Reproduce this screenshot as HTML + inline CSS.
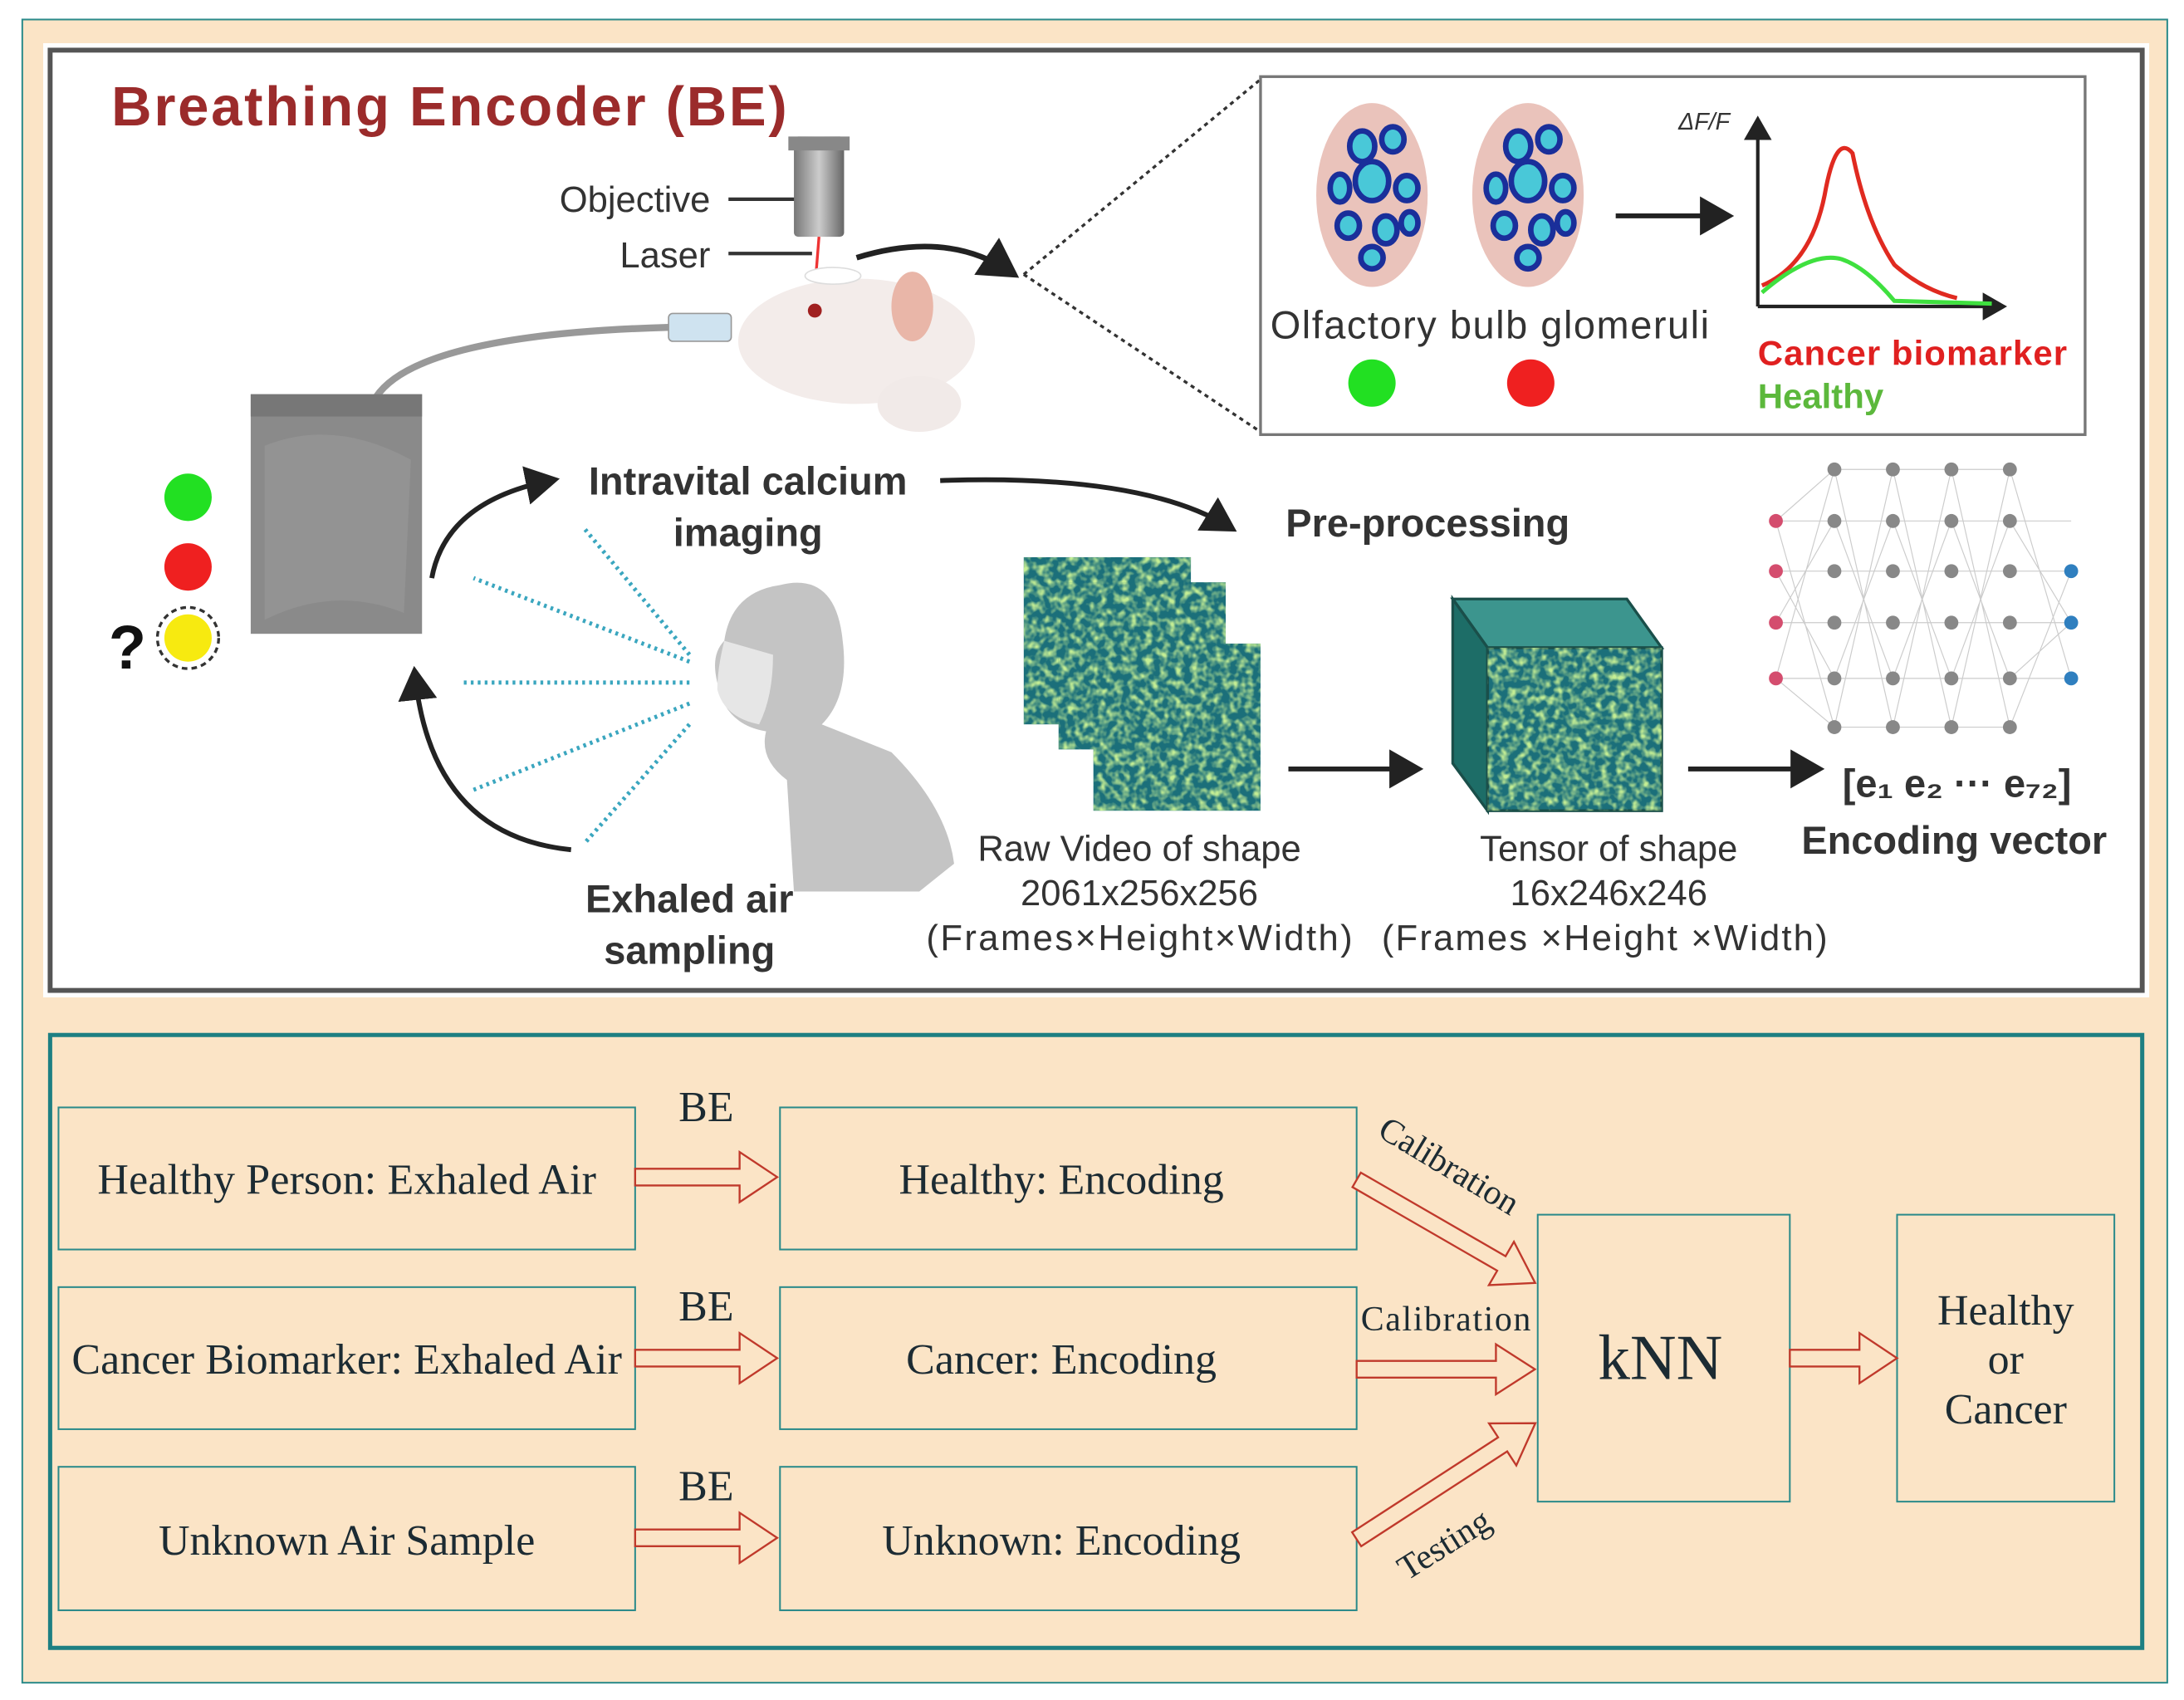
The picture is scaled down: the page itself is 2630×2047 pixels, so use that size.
<!DOCTYPE html>
<html><head><meta charset="utf-8"><style>html,body{margin:0;padding:0;background:#fff}svg{display:block}</style></head>
<body>
<svg width="2630" height="2047" viewBox="0 0 1568 1220.4" xmlns="http://www.w3.org/2000/svg">
<defs>
<filter id="noise" x="0" y="0" width="100%" height="100%">
<feTurbulence type="fractalNoise" baseFrequency="0.18" numOctaves="2" seed="3"/>
<feColorMatrix type="matrix" values="0 0 0 0 0.55  0 0 0 0 0.85  0 0 0 0 0.3  0 0 0 -2.5 1.5"/>
<feComposite in2="SourceGraphic" operator="in"/>
</filter>
<marker id="ah" markerWidth="8" markerHeight="8" refX="5" refY="4" orient="auto" markerUnits="strokeWidth"><path d="M0,0 L7,4 L0,8 z" fill="#222"/></marker>
<linearGradient id="obj" x1="0" x2="1"><stop offset="0" stop-color="#777"/><stop offset=".5" stop-color="#ccc"/><stop offset="1" stop-color="#666"/></linearGradient>
</defs>
<rect width="1568" height="1221" fill="#fff"/>
<rect x="16" y="14" width="1540" height="1194" fill="#fbe4c6" stroke="#2a8a8a" stroke-width="1.2"/>
<rect x="31" y="31" width="1512" height="685" fill="#fefefe"/>
<rect x="36" y="36" width="1502" height="675" fill="#fff" stroke="#555" stroke-width="3.5"/>
<text x="80" y="90" font-family="Liberation Sans, sans-serif" font-weight="bold" font-size="40" fill="#9b2b2b" textLength="485">Breathing Encoder (BE)</text>
<g font-family="Liberation Sans, sans-serif" font-size="26" fill="#333">
<text x="510" y="152" text-anchor="end">Objective</text>
<text x="510" y="192" text-anchor="end">Laser</text>
</g>
<line x1="523" y1="143" x2="585" y2="143" stroke="#333" stroke-width="2.5"/>
<line x1="523" y1="182" x2="583" y2="182" stroke="#333" stroke-width="2.5"/>
<rect x="570" y="98" width="36" height="72" rx="3" fill="url(#obj)"/>
<rect x="566" y="98" width="44" height="10" fill="#888"/>
<line x1="588" y1="170" x2="586" y2="195" stroke="#e33" stroke-width="2"/>
<ellipse cx="615" cy="245" rx="85" ry="45" fill="#f3ecea"/>
<ellipse cx="660" cy="290" rx="30" ry="20" fill="#f1eae8"/>
<ellipse cx="655" cy="220" rx="15" ry="25" fill="#e9b6a8"/>
<ellipse cx="598" cy="198" rx="20" ry="6" fill="#fff" stroke="#ddd"/>
<circle cx="585" cy="223" r="5" fill="#a02020"/>
<path d="M270 285 Q300 240 480 235" stroke="#999" stroke-width="5" fill="none"/>
<rect x="480" y="225" width="45" height="20" rx="3" fill="#cfe3f0" stroke="#999"/>
<path d="M615 185 Q680 165 725 195" stroke="#222" stroke-width="4" fill="none" marker-end="url(#ah)"/>
<path d="M735 197 L905 57 M735 197 L905 310" stroke="#333" stroke-width="2" stroke-dasharray="3,3" fill="none"/>
<rect x="180" y="283" width="123" height="172" fill="#8a8a8a"/>
<rect x="180" y="283" width="123" height="16" fill="#777"/>
<path d="M190 320 Q240 300 295 330 L290 440 Q240 420 190 445 z" fill="#999" opacity=".6"/>
<circle cx="135" cy="357" r="17" fill="#22e022"/>
<circle cx="135" cy="407" r="17" fill="#ef2020"/>
<circle cx="135" cy="458" r="22" fill="none" stroke="#333" stroke-width="2" stroke-dasharray="4,3"/>
<circle cx="135" cy="458" r="17" fill="#f7ea10"/>
<text x="78" y="480" font-family="Liberation Sans, sans-serif" font-weight="bold" font-size="44" fill="#111">?</text>
<path d="M310 415 Q320 360 395 345" stroke="#222" stroke-width="3.5" fill="none" marker-end="url(#ah)"/>
<path d="M410 610 Q310 600 298 485" stroke="#222" stroke-width="3.5" fill="none" marker-end="url(#ah)"/>
<g stroke="#3aa6bf" stroke-width="3" stroke-dasharray="2,3" fill="none">
<line x1="495" y1="470" x2="420" y2="380"/><line x1="495" y1="475" x2="340" y2="415"/><line x1="495" y1="490" x2="330" y2="490"/><line x1="495" y1="505" x2="340" y2="567"/><line x1="495" y1="520" x2="420" y2="605"/>
</g>
<path d="M560 420 Q600 410 605 460 Q610 500 590 520 L640 540 Q680 580 685 620 L660 640 L570 640 L565 560 Q545 545 550 525 Q520 520 515 490 Q510 470 520 460 Q525 425 560 420z" fill="#c4c4c4"/>
<path d="M520 460 Q515 480 515 495 Q520 515 545 520 Q555 500 555 470 z" fill="#e6e6e6"/>
<g font-family="Liberation Sans, sans-serif" font-weight="bold" font-size="28" fill="#333" text-anchor="middle">
<text x="537" y="355">Intravital calcium</text>
<text x="537" y="392">imaging</text>
<text x="495" y="655">Exhaled air</text>
<text x="495" y="692">sampling</text>
<text x="1025" y="385">Pre-processing</text>
<text x="1403" y="613">Encoding vector</text>
<text x="1405" y="572">[e₁ e₂ ··· e₇₂]</text>
</g>
<path d="M675 345 Q820 340 882 378" stroke="#222" stroke-width="3.5" fill="none" marker-end="url(#ah)"/>
<rect x="905" y="55" width="592" height="257" fill="#fff" stroke="#777" stroke-width="2"/>
<ellipse cx="985" cy="140" rx="40" ry="66" fill="#eac3bb"/>
<ellipse cx="1097" cy="140" rx="40" ry="66" fill="#eac3bb"/>
<g fill="#49c8d8" stroke="#1a2f9a" stroke-width="4">
<ellipse cx="978" cy="105" rx="9" ry="11"/><ellipse cx="1000" cy="100" rx="8" ry="9"/><ellipse cx="985" cy="130" rx="12" ry="14"/><ellipse cx="962" cy="135" rx="7" ry="10"/><ellipse cx="1010" cy="135" rx="8" ry="9"/><ellipse cx="968" cy="162" rx="8" ry="9"/><ellipse cx="995" cy="165" rx="8" ry="10"/><ellipse cx="1012" cy="160" rx="6" ry="8"/><ellipse cx="985" cy="185" rx="8" ry="8"/>
<ellipse cx="1090" cy="105" rx="9" ry="11"/><ellipse cx="1112" cy="100" rx="8" ry="9"/><ellipse cx="1097" cy="130" rx="12" ry="14"/><ellipse cx="1074" cy="135" rx="7" ry="10"/><ellipse cx="1122" cy="135" rx="8" ry="9"/><ellipse cx="1080" cy="162" rx="8" ry="9"/><ellipse cx="1107" cy="165" rx="8" ry="10"/><ellipse cx="1124" cy="160" rx="6" ry="8"/><ellipse cx="1097" cy="185" rx="8" ry="8"/>
</g>
<line x1="1160" y1="155" x2="1238" y2="155" stroke="#222" stroke-width="3.5" marker-end="url(#ah)"/>
<line x1="1262" y1="220" x2="1262" y2="88" stroke="#222" stroke-width="2.5" marker-end="url(#ah)"/>
<line x1="1262" y1="220" x2="1436" y2="220" stroke="#222" stroke-width="2.5" marker-end="url(#ah)"/>
<text x="1205" y="93" font-family="Liberation Sans, sans-serif" font-style="italic" font-size="17" fill="#333">ΔF/F</text>
<path d="M1265 205 Q1300 190 1310 140 Q1318 95 1330 110 Q1340 160 1360 190 Q1380 208 1405 214" stroke="#e02a20" stroke-width="3" fill="none"/>
<path d="M1265 210 Q1300 180 1322 186 Q1340 192 1360 216 L1430 218" stroke="#3fe03f" stroke-width="3" fill="none"/>
<text x="912" y="243" font-family="Liberation Sans, sans-serif" font-size="28" fill="#333" textLength="315">Olfactory bulb glomeruli</text>
<circle cx="985" cy="275" r="17" fill="#22e022"/>
<circle cx="1099" cy="275" r="17" fill="#ef2020"/>
<text x="1262" y="262" font-family="Liberation Sans, sans-serif" font-weight="bold" font-size="25" fill="#e02020" textLength="222">Cancer biomarker</text>
<text x="1262" y="293" font-family="Liberation Sans, sans-serif" font-weight="bold" font-size="25" fill="#5cb83c">Healthy</text>
<g>
<rect x="735" y="400" width="120" height="120" fill="#1b6f7a"/>
<rect x="735" y="400" width="120" height="120" fill="#1b6f7a" filter="url(#noise)"/>
<rect x="760" y="418" width="120" height="120" fill="#1b6f7a"/>
<rect x="760" y="418" width="120" height="120" fill="#1b6f7a" filter="url(#noise)"/>
<rect x="785" y="462" width="120" height="120" fill="#1b6f7a"/>
<rect x="785" y="462" width="120" height="120" fill="#1b6f7a" filter="url(#noise)"/>
</g>
<line x1="925" y1="552" x2="1015" y2="552" stroke="#222" stroke-width="3.5" marker-end="url(#ah)"/>
<polygon points="1043,430 1168,430 1193,465 1068,465" fill="#3c958e" stroke="#1a4f4a" stroke-width="2"/>
<polygon points="1043,430 1068,465 1068,582 1043,548" fill="#1d6d67" stroke="#1a4f4a" stroke-width="2"/>
<rect x="1068" y="465" width="125" height="117" fill="#1b6f7a" stroke="#1a4f4a" stroke-width="2"/>
<rect x="1068" y="465" width="125" height="117" fill="#1b6f7a" filter="url(#noise)"/>
<line x1="1212" y1="552" x2="1303" y2="552" stroke="#222" stroke-width="3.5" marker-end="url(#ah)"/>
<g font-family="Liberation Sans, sans-serif" font-size="26" fill="#333" text-anchor="middle">
<text x="818" y="618">Raw Video of shape</text><text x="818" y="650">2061x256x256</text><text x="818" y="682" textLength="306">(Frames×Height×Width)</text>
<text x="1155" y="618">Tensor of shape</text><text x="1155" y="650">16x246x246</text><text x="1152" y="682" textLength="320">(Frames ×Height ×Width)</text>
</g>
<g stroke="#ccc" stroke-width=".7">
<path d="M1275 374 L1317 337 M1275 374 L1317 522 M1275 487 L1317 337 M1275 487 L1317 522 M1317 337 L1359 522 M1317 522 L1359 337 M1359 337 L1401 522 M1359 522 L1401 337 M1401 337 L1443 522 M1401 522 L1443 337 M1443 337 L1487 487 M1443 522 L1487 410 M1275 410 L1317 487 M1275 447 L1317 374 M1317 374 L1359 487 M1317 487 L1359 374 M1359 374 L1401 487 M1359 487 L1401 374 M1401 374 L1443 487 M1401 487 L1443 374 M1443 374 L1487 447 M1443 487 L1487 447"/>
<path d="M1275 374 H1487 M1275 410 H1487 M1275 447 H1487 M1275 487 H1487 M1317 337 H1443 M1317 522 H1443"/>
</g>
<g fill="#888">
<circle cx="1317" cy="337" r="5"/><circle cx="1317" cy="374" r="5"/><circle cx="1317" cy="410" r="5"/><circle cx="1317" cy="447" r="5"/><circle cx="1317" cy="487" r="5"/><circle cx="1317" cy="522" r="5"/>
<circle cx="1359" cy="337" r="5"/><circle cx="1359" cy="374" r="5"/><circle cx="1359" cy="410" r="5"/><circle cx="1359" cy="447" r="5"/><circle cx="1359" cy="487" r="5"/><circle cx="1359" cy="522" r="5"/>
<circle cx="1401" cy="337" r="5"/><circle cx="1401" cy="374" r="5"/><circle cx="1401" cy="410" r="5"/><circle cx="1401" cy="447" r="5"/><circle cx="1401" cy="487" r="5"/><circle cx="1401" cy="522" r="5"/>
<circle cx="1443" cy="337" r="5"/><circle cx="1443" cy="374" r="5"/><circle cx="1443" cy="410" r="5"/><circle cx="1443" cy="447" r="5"/><circle cx="1443" cy="487" r="5"/><circle cx="1443" cy="522" r="5"/>
</g>
<g fill="#d44d6e"><circle cx="1275" cy="374" r="5"/><circle cx="1275" cy="410" r="5"/><circle cx="1275" cy="447" r="5"/><circle cx="1275" cy="487" r="5"/></g>
<g fill="#2f7fbf"><circle cx="1487" cy="410" r="5"/><circle cx="1487" cy="447" r="5"/><circle cx="1487" cy="487" r="5"/></g>
<rect x="36" y="743" width="1502" height="440" fill="none" stroke="#1d7f82" stroke-width="3"/>
<g fill="none" stroke="#2a8a8a" stroke-width="1.2">
<rect x="42" y="795" width="414" height="102"/><rect x="42" y="924" width="414" height="102"/><rect x="42" y="1053" width="414" height="103"/>
<rect x="560" y="795" width="414" height="102"/><rect x="560" y="924" width="414" height="102"/><rect x="560" y="1053" width="414" height="103"/>
<rect x="1104" y="872" width="181" height="206"/><rect x="1362" y="872" width="156" height="206"/>
</g>
<g font-family="Liberation Serif, serif" font-size="31" fill="#1c2b33" text-anchor="middle">
<text x="249" y="857" textLength="358">Healthy Person: Exhaled Air</text>
<text x="249" y="986" textLength="395">Cancer Biomarker: Exhaled Air</text>
<text x="249" y="1116">Unknown Air Sample</text>
<text x="762" y="857">Healthy: Encoding</text>
<text x="762" y="986">Cancer: Encoding</text>
<text x="762" y="1116">Unknown: Encoding</text>
<text x="507" y="805">BE</text><text x="507" y="948">BE</text><text x="507" y="1077">BE</text>
<text x="1440" y="951">Healthy</text><text x="1440" y="986">or</text><text x="1440" y="1022">Cancer</text>
<text x="1192" y="990" font-size="46">kNN</text>
</g>
<g fill="#fbe4c6" stroke="#c0392b" stroke-width="1.4">
<g transform="translate(456,845)"><polygon points="0,-6 75,-6 75,-18 102,0 75,18 75,6 0,6"/></g>
<g transform="translate(456,975)"><polygon points="0,-6 75,-6 75,-18 102,0 75,18 75,6 0,6"/></g>
<g transform="translate(456,1104)"><polygon points="0,-6 75,-6 75,-18 102,0 75,18 75,6 0,6"/></g>
<g transform="translate(974,847) rotate(30)"><polygon points="0,-6 120,-6 120,-18 148,0 120,18 120,6 0,6"/></g>
<g transform="translate(974,983)"><polygon points="0,-6 100,-6 100,-18 128,0 100,18 100,6 0,6"/></g>
<g transform="translate(974,1105) rotate(-33)"><polygon points="0,-6 125,-6 125,-18 153,0 125,18 125,6 0,6"/></g>
<g transform="translate(1285,975)"><polygon points="0,-6 50,-6 50,-18 77,0 50,18 50,6 0,6"/></g>
</g>
<g font-family="Liberation Serif, serif" font-size="25" fill="#1c2b33">
<text transform="translate(988,815) rotate(31)">Calibration</text>
<text x="977" y="955" textLength="122">Calibration</text>
<text transform="translate(1010,1135) rotate(-32)">Testing</text>
</g>
</svg>
</body></html>
